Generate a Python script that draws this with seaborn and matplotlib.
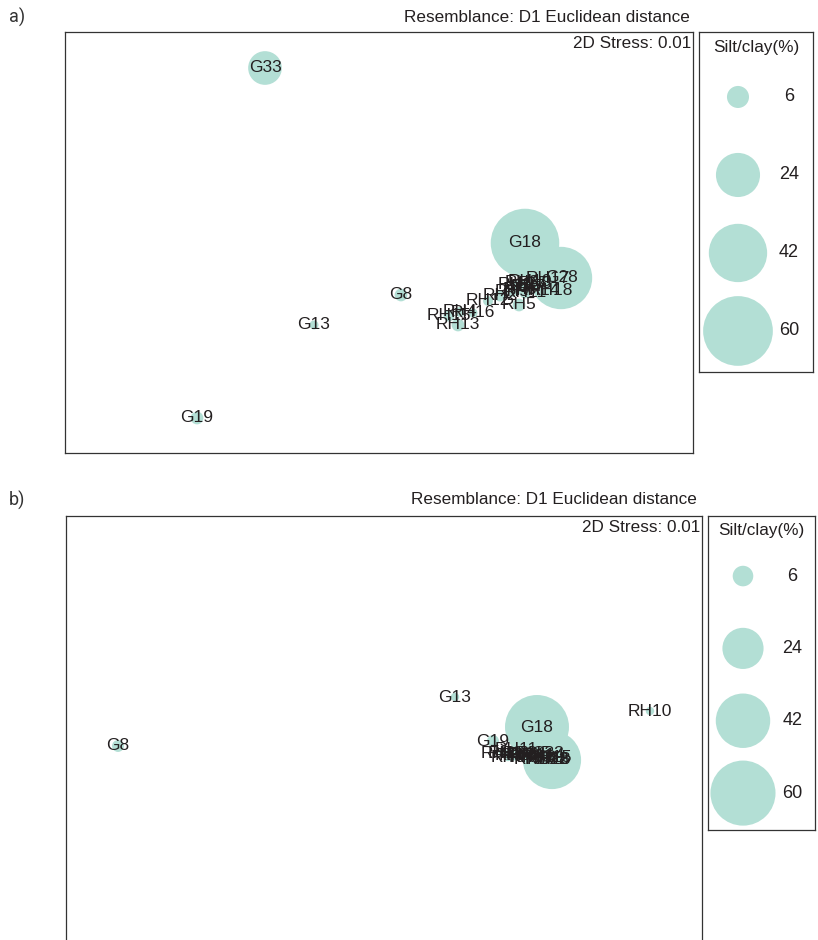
import matplotlib
matplotlib.use("Agg")
import matplotlib.pyplot as plt
import numpy as np
import pandas as pd
import seaborn as sns

sns.set_theme(style="white")
plt.rcParams["font.family"] = ["Liberation Sans", "DejaVu Sans"]

# ---- sample silt/clay content (%) ----
samples = ["G8", "G13", "G18", "G19", "G28", "G33",
           "RH1", "RH2", "RH3", "RH4", "RH5", "RH6", "RH7", "RH8", "RH9",
           "RH10", "RH11", "RH12", "RH13", "RH14", "RH15", "RH16", "RH17", "RH18"]
silt_clay = [2.0, 1.0, 58.0, 2.0, 48.0, 14.0,
             1.0, 1.5, 1.0, 1.2, 2.0, 1.0, 1.5, 1.0, 1.2,
             1.0, 1.5, 1.2, 2.0, 1.0, 1.5, 1.0, 1.2, 1.5]

# ---- nMDS ordination, panel a ----
mds1_a = [-0.495, -0.93, 0.125, -1.515, 0.305, -1.175,
          0.075, 0.0, 0.11, -0.2, 0.095, 0.10, 0.14, 0.175, 0.06,
          0.15, 0.125, -0.06, -0.21, 0.19, -0.255, -0.135, 0.24, 0.255]
mds2_a = [0.025, -0.125, 0.285, -0.59, 0.11, 1.16,
          0.075, 0.02, 0.085, -0.06, -0.025, 0.05, 0.065, 0.08, 0.04,
          0.09, 0.035, -0.005, -0.125, 0.045, -0.08, -0.065, 0.105, 0.045]

# ---- nMDS ordination, panel b ----
mds1_b = [-1.91, -0.225, 0.185, -0.035, 0.26, 0.235,
          0.025, 0.06, 0.10, 0.135, 0.17, 0.04, 0.08, 0.195, 0.115,
          0.75, 0.08, 0.235, 0.155, 0.215, 0.25, 0.015, 0.18, 0.245]
mds2_b = [-0.03, 0.215, 0.065, -0.005, -0.10, -0.07,
          -0.07, -0.08, -0.065, -0.08, -0.07, -0.085, -0.075, -0.085, -0.075,
          0.145, -0.045, -0.10, -0.09, -0.075, -0.09, -0.065, -0.095, -0.10]

legend_values = [6, 24, 42, 60]
stress_a = 0.01
stress_b = 0.01
resemblance = "Resemblance: D1 Euclidean distance"
size_title = "Silt/clay(%)"

bubble = "#b3dfd5"
ink = "#231f20"
frame = "#333333"

W, H = 818, 940
fig = plt.figure(figsize=(W / 100, H / 100), dpi=100)


def rect(x0, y0, x1, y1):
    return [x0 / W, 1 - y1 / H, (x1 - x0) / W, (y1 - y0) / H]


def style_box(ax):
    ax.set_xticks([])
    ax.set_yticks([])
    ax.set_xlabel("")
    ax.set_ylabel("")
    for sp in ax.spines.values():
        sp.set_visible(True)
        sp.set_color(frame)
        sp.set_linewidth(0.9)


def ordination(box, leg_box, x, y, xlim, ylim, area_per_unit, letter, stress,
               leg_x, leg_ylim, letter_xy, title_xy):
    ax = fig.add_axes(rect(*box))
    df = pd.DataFrame({"sample": samples, "x": x, "y": y, "v": silt_clay})
    sns.scatterplot(data=df, x="x", y="y", size="v",
                    sizes=(0, area_per_unit * 60), size_norm=(0, 60),
                    color=bubble, edgecolor="none", linewidth=0,
                    alpha=1.0, legend=False, ax=ax)
    for _, r in df.iterrows():
        ax.text(r["x"], r["y"], r["sample"], ha="center", va="center",
                fontsize=12.5, color=ink, zorder=5)
    ax.set_xlim(*xlim)
    ax.set_ylim(*ylim)
    style_box(ax)
    ax.text(0.997, 0.99, f"2D Stress: {stress:.2f}", transform=ax.transAxes,
            ha="right", va="top", fontsize=12.3, color=ink)

    fig.text(title_xy[0] / W, 1 - title_xy[1] / H, resemblance,
             ha="right", va="center", fontsize=12.3, color=ink)
    fig.text(letter_xy[0] / W, 1 - letter_xy[1] / H, letter,
             ha="left", va="center", fontsize=13, color="#333333",
             family=["Roboto", "DejaVu Sans"])

    # size key
    lax = fig.add_axes(rect(*leg_box))
    ldf = pd.DataFrame({"x": [leg_x] * len(legend_values),
                        "y": list(range(len(legend_values))),
                        "v": legend_values})
    sns.scatterplot(data=ldf, x="x", y="y", size="v",
                    sizes=(0, area_per_unit * 60), size_norm=(0, 60),
                    color=bubble, edgecolor="none", linewidth=0,
                    legend=False, ax=lax)
    for _, r in ldf.iterrows():
        lax.text(0.79, r["y"], f"{int(r['v'])}", ha="center", va="center",
                 fontsize=13, color=ink)
    lax.set_xlim(0, 1)
    lax.set_ylim(*leg_ylim)
    style_box(lax)
    lax.text(0.5, 0.955, size_title, transform=lax.transAxes,
             ha="center", va="center", fontsize=12.3, color=ink)


# panel a: 200 px per MDS unit, diameter 9 px * sqrt(value)
ordination(box=(65, 32, 693, 453), leg_box=(699, 32, 813, 372),
           x=mds1_a, y=mds2_a, xlim=(-2.175, 0.965), ylim=(-0.765, 1.34),
           area_per_unit=(9 * 0.72) ** 2, letter="a)", stress=stress_a,
           leg_x=0.342, leg_ylim=(3.526, -0.833),
           letter_xy=(9, 17), title_xy=(690, 17))

# panel b: frame runs past the lower edge of the figure
ordination(box=(66, 516, 702, 948), leg_box=(708, 516, 815, 830),
           x=mds1_b, y=mds2_b, xlim=(-2.17, 1.01), ylim=(-1.04, 1.12),
           area_per_unit=(8.4 * 0.72) ** 2, letter="b)", stress=stress_b,
           leg_x=0.327, leg_ylim=(3.51, -0.83),
           letter_xy=(9, 500), title_xy=(697, 500))

fig.savefig("out.png", dpi=100)
